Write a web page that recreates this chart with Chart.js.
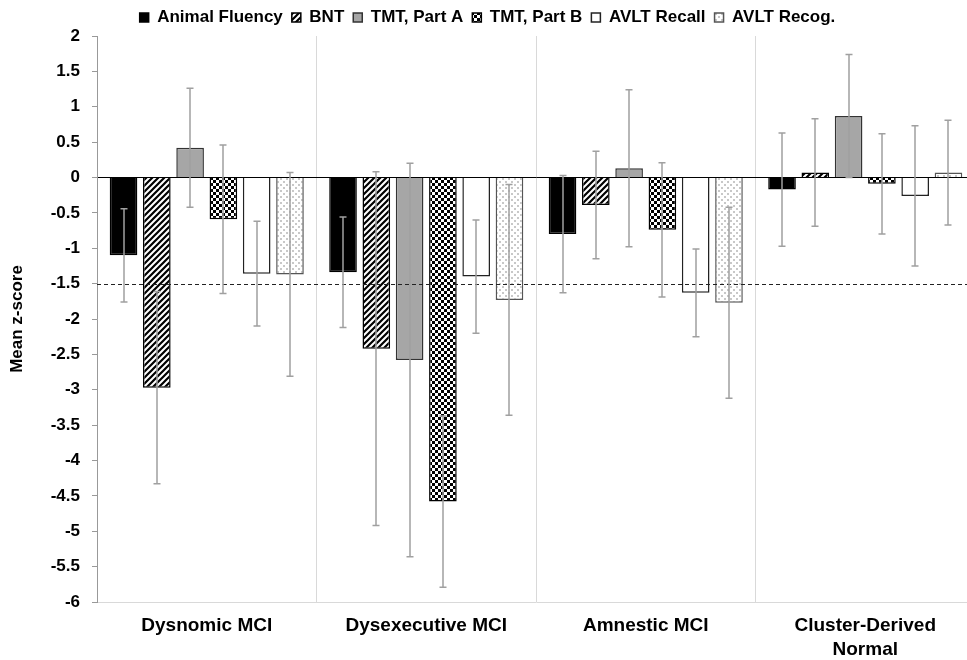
<!DOCTYPE html>
<html>
<head>
<meta charset="utf-8">
<script src="https://cdn.jsdelivr.net/npm/chart.js@4.4.1/dist/chart.umd.min.js"></script>
<style>
  html, body { margin: 0; padding: 0; background: #fff; overflow: hidden; }
  #wrap { width: 980px; height: 660px; }
</style>
</head>
<body>
<div id="wrap"><canvas id="chart" width="980" height="660"></canvas></div>
<script>
// groups and measures
var groups = ['Dysnomic MCI', 'Dysexecutive MCI', 'Amnestic MCI', ['Cluster-Derived', 'Normal']];
var measures = ['Animal Fluency', 'BNT', 'TMT, Part A', 'TMT, Part B', 'AVLT Recall', 'AVLT Recog.'];

// mean z-scores, one array per measure (order of groups)
var animalFluency = [-1.10, -1.34, -0.80, -0.17];
var bnt           = [-2.97, -2.42, -0.39, 0.07];
var tmtA          = [0.42, -2.58, 0.13, 0.87];
var tmtB          = [-0.59, -4.58, -0.74, -0.09];
var avltRecall    = [-1.36, -1.40, -1.63, -0.26];
var avltRecog     = [-1.37, -1.73, -1.77, 0.07];

// standard deviations (error bars)
var animalFluencySd = [0.66, 0.78, 0.83, 0.80];
var bntSd           = [1.36, 2.50, 0.76, 0.76];
var tmtASd          = [0.84, 2.78, 1.11, 0.87];
var tmtBSd          = [1.05, 1.21, 0.95, 0.71];
var avltRecallSd    = [0.74, 0.80, 0.62, 0.99];
var avltRecogSd     = [1.44, 1.63, 1.35, 0.74];

var cutoff = -1.5;
var yTicks = { min: -6, max: 2, step: 0.5 };

//Patterns ===========================================================================================
function makePattern(size, draw) {
    var c = document.createElement('canvas');
    c.width = size; c.height = size;
    var g = c.getContext('2d');
    draw(g, size);
    return document.getElementById('chart').getContext('2d').createPattern(c, 'repeat');
}

var stripes = makePattern(6, function (g, s) {
    g.fillStyle = '#fff';
    g.fillRect(0, 0, s, s);
    g.strokeStyle = '#000';
    g.lineWidth = 2.2;
    g.beginPath();
    g.moveTo(-1, s + 1); g.lineTo(s + 1, -1);
    g.moveTo(-1, 1); g.lineTo(1, -1);
    g.moveTo(s - 1, s + 1); g.lineTo(s + 1, s - 1);
    g.stroke();
});

var checker = makePattern(6, function (g, s) {
    g.fillStyle = '#000';
    g.fillRect(0, 0, s, s);
    g.fillStyle = '#fff';
    g.fillRect(0, 0, 3, 3);
    g.fillRect(3, 3, 3, 3);
});

var dots = makePattern(6, function (g, s) {
    g.fillStyle = '#fff';
    g.fillRect(0, 0, s, s);
    g.fillStyle = '#c8c8c8';
    g.fillRect(1, 1, 2, 2);
    g.fillRect(4, 4, 2, 2);
});
//====================================================================================================

var sdList = [animalFluencySd, bntSd, tmtASd, tmtBSd, avltRecallSd, avltRecogSd];

var errorBars = {
    id: 'errorBars',
    afterDatasetsDraw: function (chart) {
        var ctx = chart.ctx, y = chart.scales.y, area = chart.chartArea;

        // dashed cutoff line
        ctx.save();
        ctx.strokeStyle = '#222';
        ctx.lineWidth = 1;
        ctx.setLineDash([4, 3]);
        var yc = Math.round(y.getPixelForValue(cutoff)) + 0.5;
        ctx.beginPath();
        ctx.moveTo(area.left, yc);
        ctx.lineTo(area.right, yc);
        ctx.stroke();
        ctx.restore();

        ctx.save();
        ctx.strokeStyle = '#a0a0a0';
        ctx.lineWidth = 1.5;
        chart.data.datasets.forEach(function (ds, i) {
            var meta = chart.getDatasetMeta(i);
            meta.data.forEach(function (bar, j) {
                var m = ds.data[j], sd = sdList[i][j];
                var x = Math.round(bar.x);
                var top = y.getPixelForValue(m + sd), bot = y.getPixelForValue(m - sd);
                ctx.beginPath();
                ctx.moveTo(x, top); ctx.lineTo(x, bot);
                ctx.moveTo(x - 3.5, top); ctx.lineTo(x + 3.5, top);
                ctx.moveTo(x - 3.5, bot); ctx.lineTo(x + 3.5, bot);
                ctx.stroke();
            });
        });
        ctx.restore();
    }
};

var fills = ['#000', stripes, '#a6a6a6', checker, '#fff', dots];
var borders = ['#000', '#000', '#333', '#000', '#222', '#555'];
var values = [animalFluency, bnt, tmtA, tmtB, avltRecall, avltRecog];

var font = "Arial, 'Liberation Sans', sans-serif";

new Chart(document.getElementById('chart'), {
    type: 'bar',
    data: {
        labels: groups,
        datasets: measures.map(function (name, i) {
            return {
                label: name,
                data: values[i],
                backgroundColor: fills[i],
                borderColor: borders[i],
                borderWidth: 1.5,
                categoryPercentage: 0.91,
                barPercentage: 0.83
            };
        })
    },
    options: {
        responsive: false,
        animation: false,
        layout: { padding: { left: 0, right: 5, top: 0, bottom: 0 } },
        plugins: {
            tooltip: { enabled: false },
            legend: {
                position: 'top',
                labels: {
                    boxWidth: 9,
                    boxHeight: 9,
                    padding: 9,
                    color: '#000',
                    font: { family: font, size: 17, weight: 'bold' }
                }
            }
        },
        scales: {
            x: {
                afterFit: function (scale) { scale.height = 58; },
                grid: { color: '#d9d9d9', lineWidth: 1, drawTicks: false },
                border: { color: '#d9d9d9' },
                ticks: {
                    color: '#000',
                    padding: 12,
                    maxRotation: 0,
                    autoSkip: false,
                    font: { family: font, size: 19, weight: 'bold', lineHeight: 1.25 }
                }
            },
            y: {
                min: yTicks.min,
                max: yTicks.max,
                afterFit: function (scale) { scale.width = 97; },
                grid: {
                    color: function (c) { return c.tick && c.tick.value === 0 ? '#000' : 'rgba(0,0,0,0)'; },
                    tickColor: '#999',
                    tickLength: 5,
                    lineWidth: 1
                },
                border: { color: '#999' },
                ticks: {
                    stepSize: yTicks.step,
                    color: '#000',
                    padding: 12,
                    callback: function (v) { return String(v); },
                    font: { family: font, size: 17, weight: 'bold' }
                },
                title: {
                    display: true,
                    text: 'Mean z-score',
                    color: '#000',
                    padding: { top: 7, bottom: 0 },
                    font: { family: font, size: 17, weight: 'bold' }
                }
            }
        }
    },
    plugins: [errorBars]
});
</script>
</body>
</html>
